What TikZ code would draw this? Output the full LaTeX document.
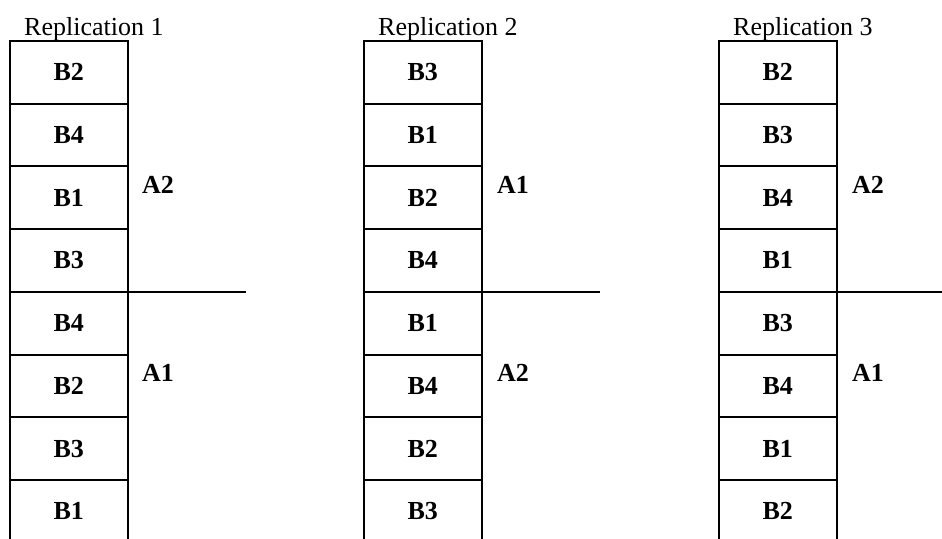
\documentclass[tikz,border=0pt]{standalone}
\usepackage{fontspec}
\setmainfont{Liberation Serif}
\begin{document}
\begin{tikzpicture}[x=1pt,y=-1pt,
 cell/.style={draw,line width=2pt,minimum width=117.5pt,minimum height=62.7pt,inner sep=0pt,outer sep=0pt,font=\fontsize{26}{30}\selectfont\bfseries,anchor=north west},
 lab/.style={font=\fontsize{26}{30}\selectfont\bfseries,anchor=base west,inner sep=0pt},
 title/.style={font=\fontsize{26}{30}\selectfont,anchor=base west,inner sep=0pt},
 divider/.style={line width=2pt}]
\useasboundingbox (0,0) rectangle (942,538);
\clip (0,0) rectangle (942,538);
% column 1
\node[title] (t1) at (24,35) {Replication 1};
\foreach \n [count=\i] in {B2,B4,B1,B3,B4,B2,B3,B1}
  \node[cell] (c1r\i) at (10,{41+(\i-1)*62.7}) {\n};
\node[lab] (a1u) at (142,193) {A2};
\node[lab] (a1l) at (142,381) {A1};
\coordinate (d1) at (246,292);
\draw[divider] (c1r5.north west) -- (c1r5.north west -| d1);
% column 2
\node[title] (t2) at (378,35) {Replication 2};
\foreach \n [count=\i] in {B3,B1,B2,B4,B1,B4,B2,B3}
  \node[cell] (c2r\i) at (364,{41+(\i-1)*62.7}) {\n};
\node[lab] (a2u) at (497,193) {A1};
\node[lab] (a2l) at (497,381) {A2};
\coordinate (d2) at (600,292);
\draw[divider] (c2r5.north west) -- (c2r5.north west -| d2);
% column 3
\node[title] (t3) at (733,35) {Replication 3};
\foreach \n [count=\i] in {B2,B3,B4,B1,B3,B4,B1,B2}
  \node[cell] (c3r\i) at (719,{41+(\i-1)*62.7}) {\n};
\node[lab] (a3u) at (852,193) {A2};
\node[lab] (a3l) at (852,381) {A1};
\coordinate (d3) at (942,292);
\draw[divider] (c3r5.north west) -- (c3r5.north west -| d3);
\end{tikzpicture}
\end{document}
